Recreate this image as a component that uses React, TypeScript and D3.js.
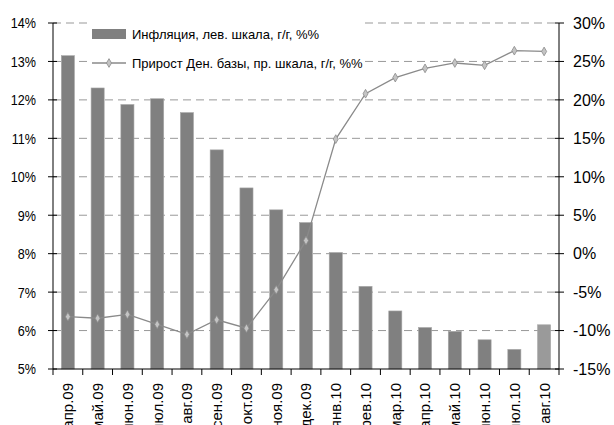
import React from "react";
import * as d3 from "d3";

const categories = ["апр.09","май.09","июн.09","июл.09","авг.09","сен.09","окт.09","ноя.09","дек.09","янв.10","фев.10","мар.10","апр.10","май.10","июн.10","июл.10","авг.10"];
const inflation = [13.15,12.31,11.88,12.03,11.67,10.7,9.71,9.14,8.81,8.03,7.15,6.51,6.08,5.98,5.76,5.51,6.15];
const moneyBase = [-8.2,-8.4,-7.9,-9.2,-10.5,-8.6,-9.7,-4.7,1.7,14.9,20.8,22.9,24.1,24.8,24.5,26.4,26.3];
const leftTicks = [5,6,7,8,9,10,11,12,13,14];
const rightTicks = [-15,-10,-5,0,5,10,15,20,25,30];
const legendLabels = ["Инфляция, лев. шкала, г/г, %%", "Прирост Ден. базы, пр. шкала, г/г, %%"];

const W = 614, H = 425;
const m = { left: 53, right: 559, top: 23, bottom: 369 };
const font = "'Liberation Sans', Arial, sans-serif";
const fs = 13;

export default function App() {
  const x = d3.scaleBand().domain(categories).range([m.left, m.right]).paddingInner(0.56).paddingOuter(0.28);
  const xb = d3.scaleBand().domain(categories).range([m.left, m.right]);
  const yL = d3.scaleLinear().domain([5, 14]).range([m.bottom, m.top]);
  const yR = d3.scaleLinear().domain([-15, 30]).range([m.bottom, m.top]);
  const line = d3.line<number>().x((_, i) => xb(categories[i])! + xb.bandwidth() / 2).y(d => yR(d));
  const diamond = d3.symbol().type(d3.symbolDiamond).size(22)();

  return (
    <svg width={W} height={H} style={{ position: "absolute", left: 0, top: 0, background: "#fff", fontFamily: font }}>
      <rect width={W} height={H} fill="#fff" />
      {leftTicks.filter(t => t > 5).map(t => (
        <line key={t} x1={m.left} x2={m.right} y1={yL(t)} y2={yL(t)} stroke="#999" strokeWidth={1} strokeDasharray="8,5" />
      ))}
      <rect x={87} y={12} width={276} height={70} fill="#fff" />
      {inflation.map((v, i) => (
        <rect key={i} x={x(categories[i])} y={yL(v)} width={x.bandwidth()} height={yL(5) - yL(v)}
          fill={i === inflation.length - 1 ? "#9a9a9a" : "#808080"} stroke="#a8a8a8" strokeWidth={0.6} />
      ))}
      <path d={line(moneyBase)!} fill="none" stroke="#8a8a8a" strokeWidth={1.3} />
      {moneyBase.map((v, i) => (
        <path key={i} d={diamond} transform={`translate(${xb(categories[i])! + xb.bandwidth() / 2},${yR(v)})`}
          fill="#c4c4c4" stroke="#8a8a8a" strokeWidth={0.8} />
      ))}
      <line x1={m.left} x2={m.left} y1={m.top} y2={m.bottom} stroke="#000" />
      <line x1={m.right} x2={m.right} y1={m.top} y2={m.bottom} stroke="#000" />
      <line x1={m.left} x2={m.right} y1={m.bottom} y2={m.bottom} stroke="#000" />
      {leftTicks.map(t => (
        <g key={t}>
          <line x1={m.left - 5} x2={m.left + 4} y1={yL(t)} y2={yL(t)} stroke="#000" />
          <text transform={`translate(${m.left - 17},${yL(t)}) scale(0.84,1)`} dy="0.36em" textAnchor="end" fontSize={15} fill="#000">{t}%</text>
        </g>
      ))}
      {rightTicks.map(t => (
        <g key={t}>
          <line x1={m.right - 4} x2={m.right + 5} y1={yR(t)} y2={yR(t)} stroke="#000" />
          <text x={573} y={yR(t)} dy="0.36em" textAnchor="start" fontSize={16} fill="#000">{t}%</text>
        </g>
      ))}
      {categories.map((c, i) => (
        <g key={c}>
          <line x1={xb(c)!} x2={xb(c)!} y1={m.bottom} y2={m.bottom + 6} stroke="#000" />
          {i === categories.length - 1 && (
            <line x1={m.right} x2={m.right} y1={m.bottom} y2={m.bottom + 6} stroke="#000" />
          )}
          <text transform={`translate(${xb(c)! + xb.bandwidth() / 2},${m.bottom + 14}) rotate(-90)`}
            dy="0.36em" textAnchor="end" fontSize={15} fill="#000">{c}</text>
        </g>
      ))}
      <rect x={92} y={29} width={34} height={10} fill="#808080" />
      <text x={132} y={34} dy="0.35em" fontSize={fs} fill="#000">{legendLabels[0]}</text>
      <line x1={92} x2={126} y1={63} y2={63} stroke="#8a8a8a" strokeWidth={1.3} />
      <path d={diamond} transform="translate(109,63)" fill="#c4c4c4" stroke="#8a8a8a" strokeWidth={0.8} />
      <text x={132} y={63} dy="0.35em" fontSize={fs} fill="#000">{legendLabels[1]}</text>
    </svg>
  );
}
